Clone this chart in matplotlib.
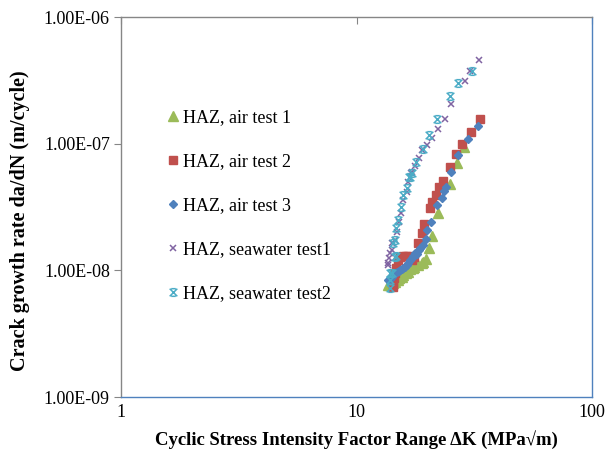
import matplotlib
matplotlib.use("Agg")
import matplotlib.pyplot as plt
from matplotlib.path import Path
from matplotlib.ticker import FixedLocator, NullLocator, FuncFormatter

# values (delta K in MPa*sqrt(m), da/dN in m/cycle)
air1_dk = [13.61, 13.87, 14.29, 14.50, 15.01, 15.10, 15.61, 15.76, 16.23, 16.55, 16.87,
           17.37, 17.55, 18.24, 18.97, 19.16, 19.73, 20.32, 20.93, 22.19, 24.95, 26.72, 28.61]
air1_rate = [7.67e-9, 7.67e-9, 7.95e-9, 8.10e-9, 8.40e-9, 8.71e-9, 8.87e-9, 9.20e-9, 9.54e-9,
             9.71e-9, 1.03e-8, 1.04e-8, 1.06e-8, 1.10e-8, 1.14e-8, 1.17e-8, 1.23e-8, 1.50e-8,
             1.87e-8, 2.84e-8, 4.81e-8, 7.04e-8, 9.42e-8]

air2_dk = [14.29, 14.29, 14.43, 14.57, 14.72, 15.01, 15.30, 15.76, 16.23, 16.55, 16.87,
           17.21, 17.55, 18.24, 18.97, 19.35, 20.52, 20.93, 21.76, 22.40, 23.30, 24.95,
           26.46, 28.05, 30.63, 33.45]
air2_rate = [7.40e-9, 7.95e-9, 8.71e-9, 9.54e-9, 1.04e-8, 1.21e-8, 1.27e-8, 1.30e-8, 1.30e-8,
             1.30e-8, 1.28e-8, 1.21e-8, 1.28e-8, 1.65e-8, 1.97e-8, 2.32e-8, 3.11e-8, 3.47e-8,
             3.94e-8, 4.55e-8, 5.08e-8, 6.55e-8, 8.29e-8, 9.95e-8, 1.24e-7, 1.57e-7]

air3_dk = [13.61, 13.87, 14.14, 14.35, 14.57, 14.86, 15.10, 15.30, 15.61, 15.76, 16.07,
           16.39, 16.55, 16.87, 17.21, 17.45, 17.72, 18.07, 18.42, 18.60, 19.16, 19.73,
           19.93, 20.72, 21.97, 23.08, 23.53, 23.99, 25.20, 26.98, 29.75, 32.81]
air3_rate = [8.40e-9, 8.55e-9, 8.87e-9, 9.20e-9, 9.54e-9, 9.71e-9, 9.90e-9, 1.01e-8, 1.03e-8,
             1.04e-8, 1.07e-8, 1.10e-8, 1.14e-8, 1.20e-8, 1.25e-8, 1.30e-8, 1.37e-8, 1.35e-8,
             1.45e-8, 1.50e-8, 1.59e-8, 1.77e-8, 2.08e-8, 2.41e-8, 3.28e-8, 3.73e-8, 4.23e-8,
             4.55e-8, 5.98e-8, 8.14e-8, 1.09e-7, 1.38e-7]

sw1_dk = [13.61, 13.61, 13.74, 13.87, 14.14, 14.14, 14.57, 14.86, 15.16, 15.45, 15.76,
          16.39, 16.55, 17.04, 17.21, 17.72, 18.42, 18.97, 19.93, 20.93, 22.19, 23.76,
          25.20, 28.88, 30.34, 33.13]
sw1_rate = [1.10e-8, 1.14e-8, 1.25e-8, 1.37e-8, 1.45e-8, 1.65e-8, 1.74e-8, 2.01e-8, 2.41e-8,
            2.84e-8, 3.59e-8, 4.16e-8, 4.98e-8, 5.87e-8, 5.98e-8, 6.67e-8, 7.71e-8, 8.92e-8,
            9.76e-8, 1.11e-7, 1.31e-7, 1.57e-7, 2.06e-7, 3.13e-7, 3.75e-7, 4.58e-7]

sw2_dk = [13.87, 13.87, 13.87, 14.14, 14.57, 14.72, 14.29, 14.57, 14.72, 15.01, 15.45,
          15.76, 16.39, 16.71, 16.87, 17.21, 17.89, 19.16, 20.32, 21.97, 24.95, 26.98, 30.93]
sw2_rate = [7.26e-9, 8.40e-9, 9.54e-9, 9.54e-9, 1.28e-8, 1.30e-8, 1.65e-8, 1.74e-8, 2.16e-8,
            2.50e-8, 3.17e-8, 3.94e-8, 4.47e-8, 5.46e-8, 5.46e-8, 5.87e-8, 7.17e-8, 9.08e-8,
            1.17e-7, 1.57e-7, 2.38e-7, 3.01e-7, 3.75e-7]

labels = ["HAZ, air test 1", "HAZ, air test 2", "HAZ, air test 3",
          "HAZ, seawater test1", "HAZ, seawater test2"]
y_ticks = [1e-9, 1e-8, 1e-7, 1e-6]
x_ticks = [1, 10, 100]

# excel style "star": an x closed by short bars top and bottom
star = Path([(-1, -1), (1, 1), (-1, 1), (1, -1), (-0.6, 1), (0.6, 1), (-0.6, -1), (0.6, -1)],
            [Path.MOVETO, Path.LINETO, Path.MOVETO, Path.LINETO,
             Path.MOVETO, Path.LINETO, Path.MOVETO, Path.LINETO])

plt.rcParams["font.family"] = ["Liberation Serif", "DejaVu Serif"]
plt.rcParams["font.size"] = 13

fig = plt.figure(figsize=(6.08, 4.53), dpi=100)
ax = fig.add_axes([121 / 608, 1 - 397 / 453, 471 / 608, 380 / 453])

ax.plot(air1_dk, air1_rate, ls="none", marker="^", ms=6.5, color="#9BBB59", label=labels[0])
ax.plot(air2_dk, air2_rate, ls="none", marker="s", ms=6, color="#C0504D", label=labels[1])
ax.plot(air3_dk, air3_rate, ls="none", marker="D", ms=4.2, color="#4F81BD", label=labels[2])
ax.plot(sw1_dk, sw1_rate, ls="none", marker="x", ms=5, mew=1.1, color="#8064A2", label=labels[3])
ax.plot(sw2_dk, sw2_rate, ls="none", marker=star, ms=5.5, mew=1.1, mfc="none",
        color="#4BACC6", label=labels[4])

ax.set_xscale("log")
ax.set_yscale("log")
ax.set_xlim(1, 100)
ax.set_ylim(1e-9, 1e-6)
ax.xaxis.set_major_locator(FixedLocator(x_ticks))
ax.yaxis.set_major_locator(FixedLocator(y_ticks))
ax.xaxis.set_minor_locator(NullLocator())
ax.yaxis.set_minor_locator(NullLocator())
ax.xaxis.set_major_formatter(FuncFormatter(lambda v, p: f"{v:g}"))
ax.yaxis.set_major_formatter(FuncFormatter(lambda v, p: f"{v:.2E}"))

for side in ("top", "left"):
    ax.spines[side].set_color("#868686")
for side in ("bottom", "right"):
    ax.spines[side].set_color("#4F81BD")
for sp in ax.spines.values():
    sp.set_linewidth(1.0)

ax.tick_params(axis="y", direction="out", length=5, color="#868686", pad=3, labelsize=13)
ax.tick_params(axis="x", bottom=False, top=True, direction="in", length=5,
               color="#868686", pad=5, labelsize=13)

ax.set_xlabel("Cyclic Stress Intensity Factor Range \u0394K (MPa\u221am)",
              fontweight="bold", fontsize=13.5, labelpad=7)
ax.set_ylabel("Crack growth rate da/dN (m/cycle)", fontweight="bold", fontsize=14.5)
ax.yaxis.set_label_coords(-0.193, 0.463)

ax.legend(loc="upper left", bbox_to_anchor=(0.08, 0.777), frameon=False, borderaxespad=0,
          handlelength=0.8, handletextpad=0.15, labelspacing=1.5, fontsize=13,
          numpoints=1)

fig.savefig("out.png", dpi=100)
